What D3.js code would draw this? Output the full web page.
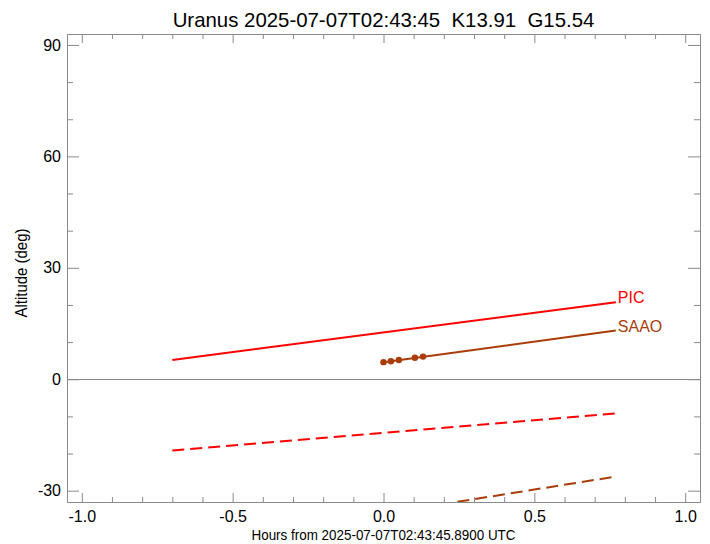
<!DOCTYPE html>
<html>
<head>
<meta charset="utf-8">
<script src="https://cdn.jsdelivr.net/npm/d3@7"></script>
<style>
  html, body { margin: 0; padding: 0; background: #fff; }
  svg { display: block; font-family: "Liberation Sans", Arial, Helvetica, sans-serif; }
</style>
</head>
<body>
<svg id="chart" width="710" height="544"></svg>
<script>
// ---- data ----
const titleText = "Uranus 2025-07-07T02:43:45  K13.91  G15.54";
const xLabelText = "Hours from 2025-07-07T02:43:45.8900 UTC";
const yLabelText = "Altitude (deg)";
const xTickValues = [-1.0, -0.5, 0.0, 0.5, 1.0];
const xTickLabels = ["-1.0", "-0.5", "0.0", "0.5", "1.0"];
const yTickValues = [-30, 0, 30, 60, 90];
const yTickLabels = ["-30", "0", "30", "60", "90"];

const picHours = [-0.7, 0.77];
const picAlt = [5.2, 20.7];
const picBelowAlt = [-19.2, -9.2];

const saaoHours = [0.0, 0.77];
const saaoAlt = [4.6, 13.1];
const saaoBelowHours = [0.245, 0.77];
const saaoBelowAlt = [-33.0, -26.2];

const obsHours = [0.0, 0.0245, 0.051, 0.104, 0.131];
const obsAlt = [4.6, 4.85, 5.2, 5.8, 6.1];

const siteNames = ["PIC", "SAAO"];
const siteColors = ["#ff0000", "#aa3c0a"];

// ---- layout ----
const L = 67, R = 700, T = 34, B = 502;
const svg = d3.select("#chart");
const x = d3.scaleLinear().domain([-1.049, 1.049]).range([L, R]);
const y = d3.scaleLinear().domain([-33.05, 92.95]).range([B, T]);
const axisColor = "#8a8a8a";

svg.append("defs").append("clipPath").attr("id", "clip")
  .append("rect").attr("x", L).attr("y", T).attr("width", R - L).attr("height", B - T);

// zero line
svg.append("line").attr("x1", L).attr("x2", R)
  .attr("y1", Math.round(y(0)) + 0.5).attr("y2", Math.round(y(0)) + 0.5)
  .attr("stroke", axisColor).attr("stroke-width", 1);

const xMinor = d3.range(-10, 11).map(d => d / 10).filter(d => !xTickValues.some(v => Math.abs(v - d) < 1e-9));
const yMinor = d3.range(-30, 91, 10).filter(d => !yTickValues.includes(d));

function styleAxis(g) {
  g.select(".domain").attr("stroke", axisColor);
  g.selectAll(".tick line").attr("stroke", axisColor);
  g.selectAll("text").attr("fill", "#000");
}

// bottom major
svg.append("g").attr("transform", `translate(0,${B})`)
  .call(d3.axisBottom(x).tickValues(xTickValues).tickSizeInner(-9).tickSizeOuter(0).tickPadding(9)
    .tickFormat((d, i) => xTickLabels[i]))
  .call(styleAxis)
  .call(g => g.selectAll("text").attr("font-size", 16).attr("font-family", "Liberation Sans, Arial, sans-serif"));
svg.append("g").attr("transform", `translate(0,${B})`)
  .call(d3.axisBottom(x).tickValues(xMinor).tickSizeInner(-5).tickSizeOuter(0).tickFormat(""))
  .call(styleAxis);
// top
svg.append("g").attr("transform", `translate(0,${T})`)
  .call(d3.axisTop(x).tickValues(xTickValues).tickSizeInner(-9).tickSizeOuter(0).tickFormat(""))
  .call(styleAxis);
svg.append("g").attr("transform", `translate(0,${T})`)
  .call(d3.axisTop(x).tickValues(xMinor).tickSizeInner(-5).tickSizeOuter(0).tickFormat(""))
  .call(styleAxis);
// left
svg.append("g").attr("transform", `translate(${L},0)`)
  .call(d3.axisLeft(y).tickValues(yTickValues).tickSizeInner(-12).tickSizeOuter(0).tickPadding(6)
    .tickFormat((d, i) => yTickLabels[i]))
  .call(styleAxis)
  .call(g => g.selectAll("text").attr("font-size", 16).attr("font-family", "Liberation Sans, Arial, sans-serif"));
svg.append("g").attr("transform", `translate(${L},0)`)
  .call(d3.axisLeft(y).tickValues(yMinor).tickSizeInner(-6).tickSizeOuter(0).tickFormat(""))
  .call(styleAxis);
// right
svg.append("g").attr("transform", `translate(${R},0)`)
  .call(d3.axisRight(y).tickValues(yTickValues).tickSizeInner(-12).tickSizeOuter(0).tickFormat(""))
  .call(styleAxis);
svg.append("g").attr("transform", `translate(${R},0)`)
  .call(d3.axisRight(y).tickValues(yMinor).tickSizeInner(-6).tickSizeOuter(0).tickFormat(""))
  .call(styleAxis);

// data lines
const line = d3.line().x(d => x(d[0])).y(d => y(d[1]));
const plot = svg.append("g").attr("clip-path", "url(#clip)");

plot.append("path").datum(d3.zip(picHours, picAlt)).attr("d", line)
  .attr("fill", "none").attr("stroke", siteColors[0]).attr("stroke-width", 2);
plot.append("path").datum(d3.zip(picHours, picBelowAlt)).attr("d", line)
  .attr("fill", "none").attr("stroke", siteColors[0]).attr("stroke-width", 2)
  .attr("stroke-dasharray", "12,6");
plot.append("path").datum(d3.zip(saaoHours, saaoAlt)).attr("d", line)
  .attr("fill", "none").attr("stroke", siteColors[1]).attr("stroke-width", 2);
plot.append("path").datum(d3.zip(saaoBelowHours, saaoBelowAlt)).attr("d", line)
  .attr("fill", "none").attr("stroke", siteColors[1]).attr("stroke-width", 2)
  .attr("stroke-dasharray", "12,6");

plot.selectAll("circle.obs").data(d3.zip(obsHours, obsAlt)).join("circle")
  .attr("class", "obs")
  .attr("cx", d => x(d[0])).attr("cy", d => y(d[1])).attr("r", 3.2)
  .attr("fill", siteColors[1]);

// site labels at line ends
const ends = [[picHours[picHours.length - 1], picAlt[picAlt.length - 1]],
              [saaoHours[saaoHours.length - 1], saaoAlt[saaoAlt.length - 1]]];
svg.selectAll("text.site").data(siteNames).join("text")
  .attr("class", "site")
  .attr("x", (d, i) => x(ends[i][0]) + 2)
  .attr("y", (d, i) => y(ends[i][1]) + 1)
  .attr("fill", (d, i) => siteColors[i])
  .attr("font-size", 16)
  .text(d => d);

// title and axis labels
svg.append("text").attr("x", (L + R) / 2).attr("y", 27).attr("text-anchor", "middle")
  .attr("font-size", 20.4).style("white-space", "pre").text(titleText);
svg.append("text").attr("x", (L + R) / 2).attr("y", 540).attr("text-anchor", "middle")
  .attr("font-size", 15).attr("textLength", 264).attr("lengthAdjust", "spacingAndGlyphs")
  .text(xLabelText);
svg.append("text").attr("transform", `translate(27,${(T + B) / 2 + 5}) rotate(-90)`)
  .attr("text-anchor", "middle").attr("font-size", 16).attr("textLength", 89)
  .attr("lengthAdjust", "spacingAndGlyphs").text(yLabelText);
</script>
</body>
</html>
